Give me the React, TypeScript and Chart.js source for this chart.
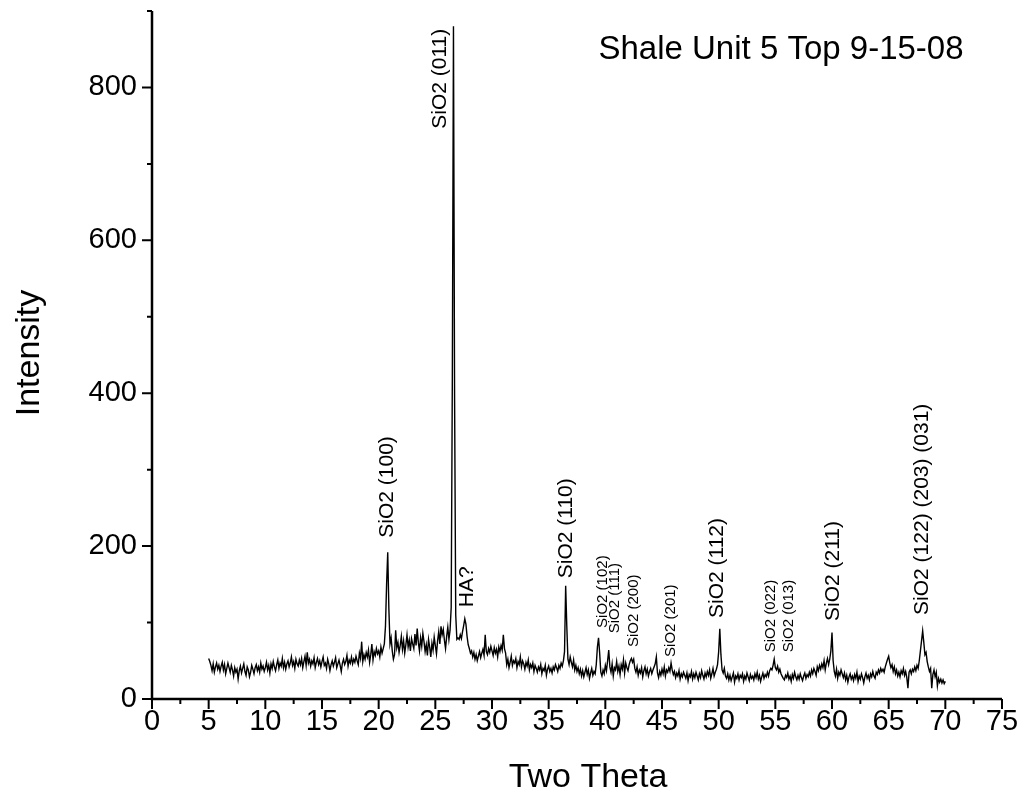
import { useEffect, useRef } from "react";
import { Chart, registerables } from "chart.js";

Chart.register(...registerables);

// Scan settings: 2θ from 5.0° to 70.0° in 0.1° steps
const SCAN_START = 5.0;
const SCAN_STEP = 0.1;

// Measured intensity, one row per degree of 2θ
const counts05to10 = [
  53, 49, 44, 37, 46, 35, 42, 47, 39, 44,
  36, 43, 48, 38, 45, 33, 40, 47, 41, 35,
  44, 38, 30, 41, 35, 39, 26, 37, 43, 34,
  40, 46, 36, 31, 42, 38, 29, 35, 44, 39,
  33, 41, 45, 37, 42, 35, 47, 39, 43, 36,
];
const counts10to15 = [
  41, 48, 38, 44, 34, 46, 40, 49, 42, 37,
  45, 51, 40, 47, 43, 53, 41, 48, 39, 46,
  50, 42, 47, 55, 44, 49, 40, 52, 46, 43,
  51, 45, 53, 41, 49, 56, 44, 61, 47, 52,
  43, 50, 46, 54, 41, 48, 53, 45, 50, 42,
];
const counts15to20 = [
  49, 55, 44, 47, 40, 52, 46, 37, 45, 50,
  43, 48, 54, 41, 46, 51, 44, 36, 47, 52,
  45, 49, 57, 43, 51, 47, 55, 46, 52, 48,
  56, 50, 45, 60, 53, 75, 49, 58, 52, 61,
  55, 64, 48, 58, 72, 51, 62, 57, 66, 59,
];
const counts20to25 = [
  63, 55, 68, 60, 66, 72, 95, 150, 192, 118,
  72, 80, 63, 52, 58, 90, 67, 74, 61, 70,
  82, 65, 76, 60, 71, 84, 68, 77, 63, 79,
  72, 66, 85, 70, 92, 74, 63, 80, 69, 86,
  75, 62, 71, 57, 78, 68, 55, 73, 64, 81,
];
const counts25to30 = [
  70, 59, 76, 88, 72, 95, 84, 91, 77, 66,
  82, 94, 78, 90, 120, 420, 880, 390, 110, 78,
  80, 78, 84, 79, 88, 96, 105, 98, 82, 71,
  66, 60, 63, 55, 61, 52, 58, 50, 56, 62,
  54, 60, 65, 57, 84, 62, 58, 66, 61, 69,
];
const counts30to35 = [
  63, 57, 67, 60, 65, 55, 68, 62, 70, 64,
  84, 66, 60, 45, 52, 41, 48, 56, 44, 50,
  47, 53, 41, 49, 45, 55, 42, 50, 46, 39,
  48, 43, 51, 38, 45, 41, 47, 36, 44, 40,
  35, 42, 38, 45, 33, 40, 37, 44, 31, 39,
];
const counts35to40 = [
  43, 36, 40, 34, 42, 38, 45, 41, 36, 44,
  40, 47, 43, 50, 62, 148, 95, 52, 45, 55,
  48, 42, 51, 38, 44, 36, 41, 33, 39, 30,
  37, 29, 35, 41, 32, 38, 27, 34, 40, 31,
  36, 33, 45, 68, 80, 60, 35, 30, 38, 33,
];
const counts40to45 = [
  44, 37, 50, 64, 42, 35, 46, 30, 41, 38,
  49, 36, 43, 32, 45, 39, 51, 34, 47, 41,
  37, 45, 50, 53, 48, 52, 40, 35, 42, 31,
  38, 34, 41, 29, 37, 42, 33, 39, 30, 36,
  40, 33, 38, 42, 46, 55, 34, 28, 36, 31,
];
const counts45to50 = [
  39, 33, 42, 30, 38, 35, 41, 36, 47, 38,
  32, 36, 28, 34, 30, 37, 26, 33, 29, 35,
  31, 27, 34, 24, 32, 29, 36, 26, 33, 28,
  35, 30, 25, 33, 28, 37, 31, 26, 34, 29,
  36, 31, 38, 27, 33, 40, 30, 35, 39, 45,
];
const counts50to55 = [
  62, 92, 58, 38, 34, 40, 30, 27, 33, 25,
  31, 24, 29, 34, 22, 30, 27, 33, 25, 31,
  28, 33, 23, 30, 26, 34, 29, 24, 32, 27,
  30, 25, 33, 28, 35, 26, 31, 23, 29, 34,
  27, 32, 29, 35, 30, 37, 40, 38, 44, 52,
];
const counts55to60 = [
  41, 38, 43, 35, 39, 33, 30, 27, 25, 31,
  28, 34, 26, 30, 23, 32, 27, 35, 29, 25,
  31, 26, 33, 28, 24, 30, 34, 27, 32, 29,
  35, 30, 38, 33, 40, 36, 31, 42, 37, 44,
  39, 46, 41, 50, 38, 47, 53, 45, 52, 63,
];
const counts60to65 = [
  87, 50, 36, 30, 39, 27, 35, 31, 38, 33,
  28, 34, 25, 31, 22, 29, 33, 26, 30, 24,
  32, 27, 35, 23, 30, 26, 33, 28, 21, 29,
  34, 27, 31, 25, 33, 29, 36, 30, 27, 35,
  32, 38, 34, 40, 36, 39, 35, 42, 47, 52,
];
const counts65to70 = [
  56, 47, 41, 45, 36, 42, 33, 38, 30, 35,
  29, 37, 33, 40, 31, 36, 28, 14, 35, 38,
  33, 39, 36, 42, 37, 44, 40, 50, 63, 76,
  89, 74, 58, 61, 49, 42, 36, 40, 14, 32,
  38, 29, 35, 17, 27, 22, 26, 21, 25, 20,
  23,
];

const intensity = [
  ...counts05to10, ...counts10to15, ...counts15to20, ...counts20to25,
  ...counts25to30, ...counts30to35, ...counts35to40, ...counts40to45,
  ...counts45to50, ...counts50to55, ...counts55to60, ...counts60to65,
  ...counts65to70,
];
const twoTheta = intensity.map((_, i) => Math.round((SCAN_START + i * SCAN_STEP) * 10) / 10);

// Axis ticks
const xMajorTicks = [0, 5, 10, 15, 20, 25, 30, 35, 40, 45, 50, 55, 60, 65, 70, 75];
const xMinorTicks = [2.5, 7.5, 12.5, 17.5, 22.5, 27.5, 32.5, 37.5, 42.5, 47.5, 52.5, 57.5, 62.5, 67.5, 72.5];
const yMajorTicks = [0, 200, 400, 600, 800];
const yMinorTicks = [100, 300, 500, 700, 900];

// Reflection assignments: text, 2θ of the label, intensity where the label starts
const peakLabelText = [
  "SiO2 (100)", "SiO2 (011)", "HA?", "SiO2 (110)", "SiO2 (102)", "SiO2 (111)",
  "SiO2 (200)", "SiO2 (201)", "SiO2 (112)", "SiO2 (022)", "SiO2 (013)",
  "SiO2 (211)", "SiO2 (122) (203) (031)",
];
const peakLabelTheta = [20.77, 25.45, 27.83, 36.57, 39.74, 40.8, 42.5, 45.8, 49.9, 54.6, 56.2, 60.1, 68.0];
const peakLabelBase = [211, 746, 120, 158, 93, 86, 68, 55, 106, 61, 61, 102, 110];
const minorReflections = new Set(["SiO2 (102)", "SiO2 (111)", "SiO2 (200)", "SiO2 (201)", "SiO2 (022)", "SiO2 (013)"]);

const chartTitle = "Shale Unit 5 Top 9-15-08";
const xTitle = "Two Theta";
const yTitle = "Intensity";

const FONT = "'Liberation Sans', Arial, Helvetica, sans-serif";

const decorPlugin = {
  id: "xrdDecor",
  afterDraw(chart: any) {
    const { ctx, chartArea, scales } = chart;
    const x = scales.x;
    const y = scales.y;
    ctx.save();
    ctx.strokeStyle = "#000";
    ctx.fillStyle = "#000";
    ctx.lineCap = "butt";

    // axis lines
    ctx.lineWidth = 2.5;
    ctx.beginPath();
    ctx.moveTo(chartArea.left, chartArea.top);
    ctx.lineTo(chartArea.left, chartArea.bottom);
    ctx.lineTo(chartArea.right, chartArea.bottom);
    ctx.stroke();

    // tick marks, pointing outwards
    ctx.lineWidth = 2;
    ctx.beginPath();
    for (const v of xMajorTicks) {
      const px = x.getPixelForValue(v);
      ctx.moveTo(px, chartArea.bottom);
      ctx.lineTo(px, chartArea.bottom + 10);
    }
    for (const v of xMinorTicks) {
      const px = x.getPixelForValue(v);
      ctx.moveTo(px, chartArea.bottom);
      ctx.lineTo(px, chartArea.bottom + 5);
    }
    for (const v of yMajorTicks) {
      const py = y.getPixelForValue(v);
      ctx.moveTo(chartArea.left, py);
      ctx.lineTo(chartArea.left - 10, py);
    }
    for (const v of yMinorTicks) {
      const py = y.getPixelForValue(v);
      ctx.moveTo(chartArea.left, py);
      ctx.lineTo(chartArea.left - 5, py);
    }
    ctx.stroke();

    // reflection labels, rotated
    ctx.textAlign = "left";
    ctx.textBaseline = "middle";
    peakLabelText.forEach((text, i) => {
      const px = x.getPixelForValue(peakLabelTheta[i]);
      const py = y.getPixelForValue(peakLabelBase[i]);
      ctx.save();
      ctx.translate(px, py);
      ctx.rotate(-Math.PI / 2);
      ctx.font = `${minorReflections.has(text) ? 15 : 21}px ${FONT}`;
      ctx.fillText(text, 0, 0);
      ctx.restore();
    });

    // chart title
    ctx.font = `33px ${FONT}`;
    ctx.textAlign = "center";
    ctx.textBaseline = "middle";
    ctx.fillText(chartTitle, 781, 50);

    // axis titles
    ctx.font = `34px ${FONT}`;
    ctx.fillText(xTitle, 588, 778);
    ctx.save();
    ctx.translate(30, 353);
    ctx.rotate(-Math.PI / 2);
    ctx.fillText(yTitle, 0, 0);
    ctx.restore();

    ctx.restore();
  },
};

export default function App() {
  const canvasRef = useRef<HTMLCanvasElement | null>(null);

  useEffect(() => {
    const canvas = canvasRef.current;
    if (!canvas) return;
    const chart = new Chart(canvas, {
      type: "line",
      data: {
        labels: twoTheta,
        datasets: [
          {
            data: twoTheta.map((t, i) => ({ x: t, y: intensity[i] })),
            borderColor: "#000",
            borderWidth: 1.4,
            pointRadius: 0,
            tension: 0,
            fill: false,
          },
        ],
      },
      options: {
        responsive: false,
        animation: false,
        devicePixelRatio: 1,
        layout: { padding: { left: 0, top: 11, right: 21, bottom: 0 } },
        plugins: {
          legend: { display: false },
          tooltip: { enabled: false },
          title: { display: false },
        },
        scales: {
          x: {
            type: "linear",
            min: 0,
            max: 75,
            grid: { display: false, drawTicks: false },
            border: { display: false },
            afterBuildTicks: (scale: any) => {
              scale.ticks = xMajorTicks.map((v) => ({ value: v }));
            },
            afterFit: (scale: any) => {
              scale.height = 105;
              scale.paddingLeft = 0;
              scale.paddingRight = 0;
            },
            ticks: {
              autoSkip: false,
              maxRotation: 0,
              padding: 6,
              color: "#000",
              font: { family: FONT, size: 29 },
              callback: (v: any) => String(v),
            },
          },
          y: {
            type: "linear",
            min: 0,
            max: 900,
            grid: { display: false, drawTicks: false },
            border: { display: false },
            afterBuildTicks: (scale: any) => {
              scale.ticks = yMajorTicks.map((v) => ({ value: v }));
            },
            afterFit: (scale: any) => {
              scale.width = 152;
              scale.paddingTop = 0;
              scale.paddingBottom = 0;
            },
            ticks: {
              autoSkip: false,
              padding: 15,
              color: "#000",
              font: { family: FONT, size: 29 },
              callback: (v: any) => String(v),
            },
          },
        },
      },
      plugins: [decorPlugin],
    });
    return () => chart.destroy();
  }, []);

  return (
    <div style={{ position: "absolute", left: 0, top: 0, width: 1023, height: 804, background: "#fff" }}>
      <canvas ref={canvasRef} width={1023} height={804} style={{ display: "block" }} />
    </div>
  );
}
